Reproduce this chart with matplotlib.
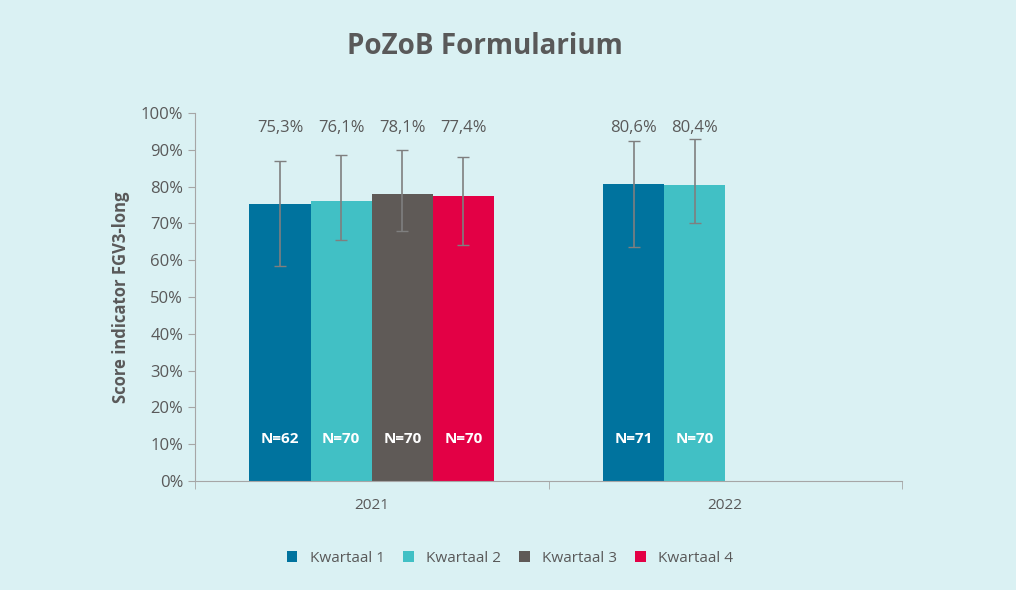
import matplotlib.pyplot as plt
import numpy as np

plt.rcParams['font.family'] = 'Open Sans'

years = ['2021', '2022']
quarters = ['Kwartaal 1', 'Kwartaal 2', 'Kwartaal 3', 'Kwartaal 4']
colors = ['#00739E', '#41C0C5', '#5F5A57', '#E30045']
# values per quarter, per year (None = no data)
scores = [[75.3, 80.6], [76.1, 80.4], [78.1, None], [77.4, None]]
err_low = [[58.5, 63.5], [65.5, 70.0], [68.0, None], [64.0, None]]
err_high = [[87.0, 92.5], [88.5, 93.0], [90.0, None], [88.0, None]]
n_labels = [['N=62', 'N=71'], ['N=70', 'N=70'], ['N=70', None], ['N=70', None]]

bg = '#DAF1F3'
grey = '#595959'
fig = plt.figure(figsize=(10.16, 5.9), dpi=100, facecolor=bg)
ax = fig.add_axes([195/1016, 1-481/590, 707/1016, 368/590], facecolor=bg)

w = 0.173
x = np.arange(len(years))
for i, q in enumerate(quarters):
    for j in range(len(years)):
        v = scores[i][j]
        if v is None:
            continue
        xp = x[j] + (i - 1.5) * w
        ax.bar(xp, v, w, color=colors[i], label=q if j == 0 else None)
        ax.errorbar(xp, v, yerr=[[v - err_low[i][j]], [err_high[i][j] - v]],
                    color='#7F7F7F', capsize=4, lw=1.2)
        ax.text(xp, 96, f'{v:.1f}%'.replace('.', ','), ha='center', va='center',
                fontsize=12, color=grey)
        ax.text(xp, 11.5, n_labels[i][j], ha='center', va='center',
                fontsize=11, color='white', fontweight='bold')

ax.set_xlim(-0.5, 1.5)
ax.set_ylim(0, 100)
ax.set_yticks(range(0, 101, 10))
ax.set_yticklabels([f'{t}%' for t in range(0, 101, 10)], fontsize=12, color=grey)
ax.set_xticks(x)
ax.set_xticklabels(years, fontsize=11, color=grey)
ax.set_xticks([-0.5, 0.5, 1.5], minor=True)
ax.tick_params(axis='x', which='major', length=0, pad=12)
ax.tick_params(axis='x', which='minor', length=6, color='#A6A6A6')
ax.tick_params(axis='y', length=5, color='#A6A6A6')
for s in ['top', 'right']:
    ax.spines[s].set_visible(False)
for s in ['left', 'bottom']:
    ax.spines[s].set_color('#A6A6A6')
ax.set_ylabel('Score indicator FGV3-long', fontsize=12, fontweight='bold', color=grey, labelpad=8)

fig.text(485/1016, 1-47/590, 'PoZoB Formularium', ha='center', va='center',
         fontsize=20, fontweight='bold', color=grey)
fig.legend(loc='center', bbox_to_anchor=(510/1016, 1-558/590), ncol=4, frameon=False,
           fontsize=11, labelcolor=grey, handlelength=0.7, handleheight=0.7, columnspacing=1.2)

fig.savefig('out.png', facecolor=bg)
